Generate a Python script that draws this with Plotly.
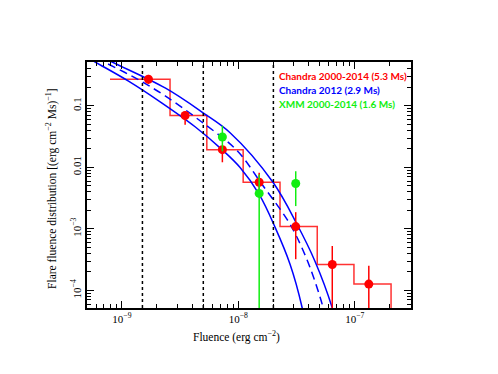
import plotly.graph_objects as go

# Chandra 2000-2014 histogram (bin edges and heights)
bin_edges = [7.9e-10, 2.59e-9, 5.36e-9, 1.10e-8, 2.28e-8, 4.76e-8, 9.84e-8, 2.05e-7]
bin_heights = [0.270, 0.0697, 0.0194, 5.74e-3, 1.09e-3, 2.64e-4, 1.27e-4]

# Chandra 2000-2014 points
chandra_x = [1.69e-9, 3.49e-9, 7.29e-9, 1.51e-8, 3.11e-8, 6.41e-8, 1.32e-7]
chandra_y = [0.270, 0.0697, 0.0194, 5.74e-3, 1.09e-3, 2.64e-4, 1.27e-4]
chandra_hi = [0.318, 0.0809, 0.0219, 8.15e-3, 1.87e-3, 5.28e-4, 2.51e-4]
chandra_lo = [0.227, 0.0493, 0.0121, 3.91e-3, 3.22e-4, 1e-7, 1e-7]

# XMM 2000-2014 points
xmm_x = [7.29e-9, 1.51e-8, 3.11e-8]
xmm_y = [0.0312, 3.77e-3, 5.47e-3]
xmm_hi = [0.0474, 7.64e-3, 8.65e-3]
xmm_lo = [0.0182, 1e-7, 2.35e-3]

# Chandra 2012 model curves (upper, best, lower)
up_x = [5.33e-10, 8.24e-10, 2.35e-9, 4.98e-9, 8.49e-9, 1.99e-8, 3.19e-8, 4.55e-8, 6.37e-8, 6.76e-8]
up_y = [0.776, 0.515, 0.195, 0.077, 0.0366, 5.68e-3, 1.19e-3, 2.99e-4, 5.38e-5, 3.44e-5]
mid_x = [4.83e-10, 7.03e-10, 1.30e-9, 2.35e-9, 4.69e-9, 9.75e-9, 1.60e-8, 2.62e-8, 3.19e-8, 4.12e-8, 5.33e-8, 5.55e-8]
mid_y = [0.748, 0.515, 0.284, 0.145, 0.0572, 0.0187, 5.27e-3, 1.43e-3, 7.31e-4, 2.39e-4, 5.38e-5, 3.72e-5]
lo_x = [4.38e-10, 5.89e-10, 1.13e-9, 2.13e-9, 4.25e-9, 7.24e-9, 1.035e-8, 1.51e-8, 2.07e-8, 2.78e-8, 3.52e-8, 3.67e-8]
lo_y = [0.713, 0.515, 0.254, 0.116, 0.0457, 0.0194, 9.93e-3, 3.63e-3, 1.06e-3, 2.67e-4, 5.38e-5, 3.44e-5]

# class boundaries and labels
bounds = [1.5e-9, 5e-9, 2e-8]
class_names = ["Weak", "Moderate", "Bright", "Very Bright"]
class_x = [1.33e-9, 3.4e-9, 9.9e-9, 3.8e-8]

RED = "#ff0000"
BLUE = "#0000ff"
GREEN = "#11ee11"

fig = go.Figure()

# histogram as a step line
hx = bin_edges + [bin_edges[-1]]
hy = bin_heights + [bin_heights[-1], 1e-7]
fig.add_trace(go.Scatter(x=hx, y=hy, mode="lines", line=dict(color=RED, width=1.5, shape="hv"),
                         opacity=0.8))

for cx, cy, dash in [(up_x, up_y, "solid"), (mid_x, mid_y, "8px,5px"), (lo_x, lo_y, "solid")]:
    fig.add_trace(go.Scatter(x=cx, y=cy, mode="lines",
                             line=dict(color=BLUE, width=1.5, shape="spline", dash=dash)))

fig.add_trace(go.Scatter(
    x=chandra_x, y=chandra_y, mode="markers",
    marker=dict(color=RED, size=9),
    error_y=dict(type="data", symmetric=False,
                 array=[h - y for h, y in zip(chandra_hi, chandra_y)],
                 arrayminus=[y - l for y, l in zip(chandra_y, chandra_lo)],
                 color=RED, thickness=1.5, width=0)))

fig.add_trace(go.Scatter(
    x=xmm_x, y=xmm_y, mode="markers",
    marker=dict(color=GREEN, size=9),
    error_y=dict(type="data", symmetric=False,
                 array=[h - y for h, y in zip(xmm_hi, xmm_y)],
                 arrayminus=[y - l for y, l in zip(xmm_y, xmm_lo)],
                 color=GREEN, thickness=1.5, width=0)))

for b in bounds:
    fig.add_shape(type="line", x0=b, x1=b, y0=0, y1=1, xref="x", yref="paper",
                  line=dict(color="black", width=1.5, dash="dot"))

for name, xc in zip(class_names, class_x):
    fig.add_annotation(x=xc, y=-4.11, text=name, showarrow=False, xref="x", yref="y",
                       font=dict(family="Lato", size=10, color="black"))

legend = [("Chandra 2000-2014 (5.3 Ms)", RED), ("Chandra 2012 (2.9 Ms)", BLUE),
          ("XMM 2000-2014 (1.6 Ms)", GREEN)]
for i, (txt, col) in enumerate(legend):
    fig.add_annotation(x=0.587, y=0.945 - i * 0.058, xref="paper", yref="paper", text="<b>" + txt + "</b>",
                       showarrow=False, xanchor="left", yanchor="middle",
                       font=dict(family="Lato", size=10, color=col))

serif = dict(family="Liberation Serif", size=11, color="black")

# axis titles
fig.add_annotation(x=0.46, y=-0.114, xref="paper", yref="paper", showarrow=False,
                   text="Fluence (erg cm<sup>\u22122</sup>)", font=dict(family="Liberation Serif", size=11.5, color="black"),
                   yanchor="middle")
fig.add_annotation(x=-0.108, y=0.484, xref="paper", yref="paper", showarrow=False, textangle=-90,
                   text="Flare fluence distribution [(erg cm<sup>\u22122</sup> Ms)<sup>\u22121</sup>]",
                   font=dict(family="Liberation Serif", size=11.5, color="black"),
                   xanchor="center", yanchor="middle")

# minor tick positions
minor_x = [m * 10.0 ** e for e in range(-10, -6) for m in range(2, 10)]
minor_y = [m * 10.0 ** e for e in range(-5, 0) for m in range(2, 10)]

fig.update_xaxes(type="log", range=[-9.30, -6.517],
                 tickvals=[1e-9, 1e-8, 1e-7],
                 ticktext=["10<sup>\u22129</sup>", "10<sup>\u22128</sup>", "10<sup>\u22127</sup>"],
                 ticks="inside", ticklen=7, tickwidth=1.2, tickcolor="black",
                 minor=dict(tickvals=minor_x, ticks="inside", ticklen=4, tickcolor="black", tickwidth=1),
                 showline=True, linecolor="black", linewidth=1.5, mirror="ticks",
                 showgrid=False, zeroline=False, tickfont=serif)
fig.update_yaxes(type="log", range=[-4.285, -0.288],
                 tickvals=[1e-4, 1e-3, 0.01, 0.1],
                 ticktext=["10<sup>\u22124</sup>", "10<sup>\u22123</sup>", "0.01", "0.1"],
                 tickangle=-90,
                 ticks="inside", ticklen=7, tickwidth=1.2, tickcolor="black",
                 minor=dict(tickvals=minor_y, ticks="inside", ticklen=4, tickcolor="black", tickwidth=1),
                 showline=True, linecolor="black", linewidth=1.5, mirror="ticks",
                 showgrid=False, zeroline=False, tickfont=serif)

# page body adds an 8px offset, so margins are shifted to compensate
fig.update_layout(width=498, height=374, showlegend=False,
                  paper_bgcolor="white", plot_bgcolor="white",
                  margin=dict(l=79, r=95, t=54, b=74))

fig.write_html("out.html")
